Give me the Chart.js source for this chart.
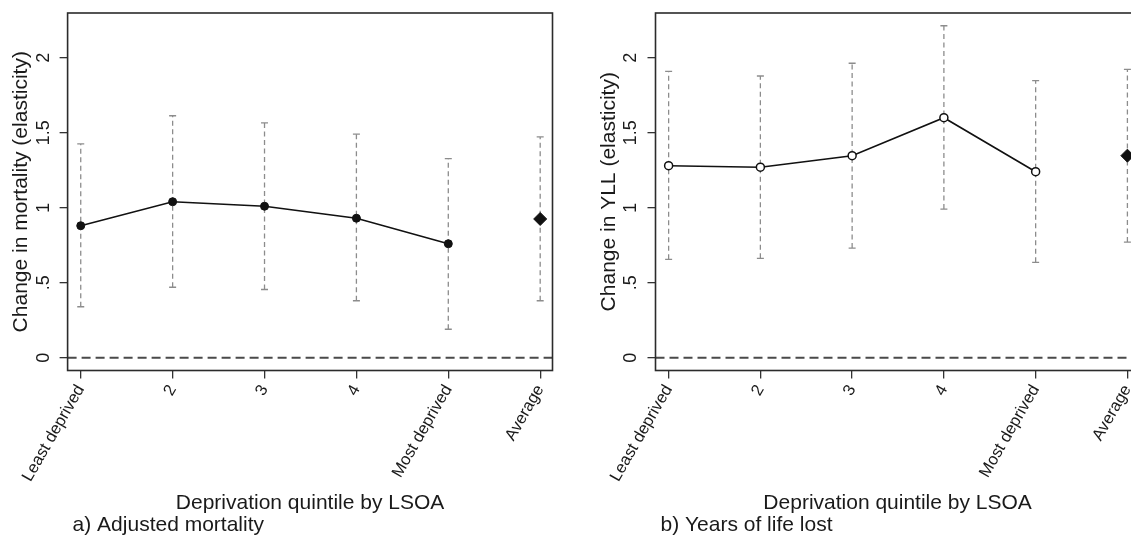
<!DOCTYPE html>
<html>
<head>
<meta charset="utf-8">
<script src="https://cdn.jsdelivr.net/npm/chart.js@4"></script>
<style>
  html, body { margin: 0; padding: 0; background: #fff; overflow: hidden; }
  #wrap { position: relative; width: 1131px; height: 541px; overflow: hidden; }
  canvas { position: absolute; top: 0; }
  #left { left: 0; }
  #right { left: 565px; }
</style>
</head>
<body>
<div id="wrap">
  <canvas id="left" width="565" height="541"></canvas>
  <canvas id="right" width="600" height="541"></canvas>
</div>
<script>
// Categories and y ticks
const categories = ['Least deprived', '2', '3', '4', 'Most deprived', 'Average'];
const yTicks = [0, 0.5, 1, 1.5, 2];

// a) Adjusted mortality
const mortEst = [0.88, 1.04, 1.01, 0.93, 0.76];
const mortAvg = 0.925;
const mortLow = [0.34, 0.47, 0.455, 0.38, 0.19, 0.38];
const mortHigh = [1.425, 1.613, 1.565, 1.49, 1.327, 1.472];

// b) Years of life lost
const yllEst = [1.28, 1.27, 1.347, 1.60, 1.24];
const yllAvg = 1.347;
const yllLow = [0.656, 0.663, 0.731, 0.991, 0.636, 0.771];
const yllHigh = [1.909, 1.878, 1.963, 2.213, 1.847, 1.922];

const FONT = '"Liberation Sans", Arial, sans-serif';
const INK = '#1a1a1a';

// Stata style tick labels: .5 instead of 0.5
function fmt(v) {
    return v === 0 ? '0' : String(v).replace(/^0\./, '.');
}

// Build error bars, the line and the average diamond
function buildDatasets(est, avg, low, high, hollow) {
    const sets = [];
    low.forEach((lo, i) => {
        sets.push({
            data: [{ x: i + 1, y: lo }, { x: i + 1, y: high[i] }],
            borderColor: '#8c8c8c',
            borderWidth: 1.3,
            borderDash: [5, 3.5],
            pointStyle: 'line',
            pointRadius: 3.5,
            pointBorderColor: '#8c8c8c',
            pointBorderWidth: 1.3,
            order: 3
        });
    });
    sets.push({
        data: est.map((v, i) => ({ x: i + 1, y: v })),
        borderColor: '#111',
        borderWidth: 1.6,
        pointRadius: 4,
        pointBackgroundColor: hollow ? '#fff' : '#111',
        pointBorderColor: '#111',
        pointBorderWidth: hollow ? 1.5 : 1,
        order: 1
    });
    sets.push({
        data: [{ x: categories.length, y: avg }],
        showLine: false,
        pointStyle: 'rectRot',
        pointRadius: 6.5,
        pointBackgroundColor: '#111',
        pointBorderColor: '#111',
        order: 0
    });
    return sets;
}

// Frame, zero line and all the text Stata puts round the plot
function panelDecor(o) {
    return {
        id: 'panelDecor',
        beforeDatasetsDraw(chart) {
            const { ctx, chartArea: ca, scales: { y } } = chart;
            const y0 = y.getPixelForValue(0);
            ctx.save();
            ctx.strokeStyle = '#4a4a4a';
            ctx.lineWidth = 2;
            ctx.setLineDash([9, 5]);
            ctx.beginPath();
            ctx.moveTo(ca.left, y0);
            ctx.lineTo(ca.right, y0);
            ctx.stroke();
            ctx.restore();
        },
        afterDraw(chart) {
            const { ctx, chartArea: ca, scales: { y } } = chart;
            ctx.save();
            ctx.strokeStyle = '#2b2b2b';
            ctx.lineWidth = 1.6;
            ctx.strokeRect(ca.left, ca.top, ca.right - ca.left, ca.bottom - ca.top);

            ctx.fillStyle = INK;
            ctx.textAlign = 'center';
            ctx.textBaseline = 'middle';

            // y tick labels, turned like the title
            ctx.font = '18px ' + FONT;
            yTicks.forEach(v => {
                ctx.save();
                ctx.translate(ca.left - 24, y.getPixelForValue(v));
                ctx.rotate(-Math.PI / 2);
                ctx.fillText(fmt(v), 0, 0);
                ctx.restore();
            });

            ctx.font = '21px ' + FONT;
            ctx.save();
            ctx.translate(ca.left - 46.5, (ca.top + ca.bottom) / 2);
            ctx.rotate(-Math.PI / 2);
            ctx.fillText(o.yTitle, 0, 0);
            ctx.restore();

            ctx.fillText('Deprivation quintile by LSOA', (ca.left + ca.right) / 2, 503);
            ctx.textAlign = 'left';
            ctx.fillText(o.caption, ca.left + 5, 525);
            ctx.restore();
        }
    };
}

function makePanel(id, datasets, o) {
    const ctx = document.getElementById(id).getContext('2d');
    return new Chart(ctx, {
        type: 'line',
        data: { datasets: datasets },
        options: {
            responsive: false,
            animation: false,
            events: [],
            layout: { padding: { top: 13, right: o.padRight, left: 0, bottom: 0 } },
            plugins: { legend: { display: false }, tooltip: { enabled: false } },
            scales: {
                x: {
                    type: 'linear',
                    min: 0.857,
                    max: 6.134,
                    afterBuildTicks: axis => { axis.ticks = categories.map((c, i) => ({ value: i + 1 })); },
                    ticks: {
                        autoSkip: false,
                        minRotation: 60,
                        maxRotation: 60,
                        padding: 3,
                        color: INK,
                        font: { family: FONT, size: 16.5 },
                        callback: v => categories[v - 1]
                    },
                    grid: { drawOnChartArea: false, drawTicks: true, tickLength: 8, color: '#333', lineWidth: 1.3 },
                    border: { display: false },
                    afterFit: axis => { axis.height = 170.5; }
                },
                y: {
                    min: -0.085,
                    max: 2.298,
                    afterBuildTicks: axis => { axis.ticks = yTicks.map(v => ({ value: v })); },
                    ticks: { display: false },
                    grid: { drawOnChartArea: false, drawTicks: true, tickLength: 8, color: '#333', lineWidth: 1.3 },
                    border: { display: false },
                    afterFit: axis => { axis.width = o.yWidth; }
                }
            }
        },
        plugins: [panelDecor(o)]
    });
}

makePanel('left', buildDatasets(mortEst, mortAvg, mortLow, mortHigh, false), {
    yWidth: 67.6, padRight: 12.5,
    yTitle: 'Change in mortality (elasticity)', caption: 'a) Adjusted mortality'
});

makePanel('right', buildDatasets(yllEst, yllAvg, yllLow, yllHigh, true), {
    yWidth: 90.5, padRight: 25.3,
    yTitle: 'Change in YLL (elasticity)', caption: 'b) Years of life lost'
});
</script>
</body>
</html>
